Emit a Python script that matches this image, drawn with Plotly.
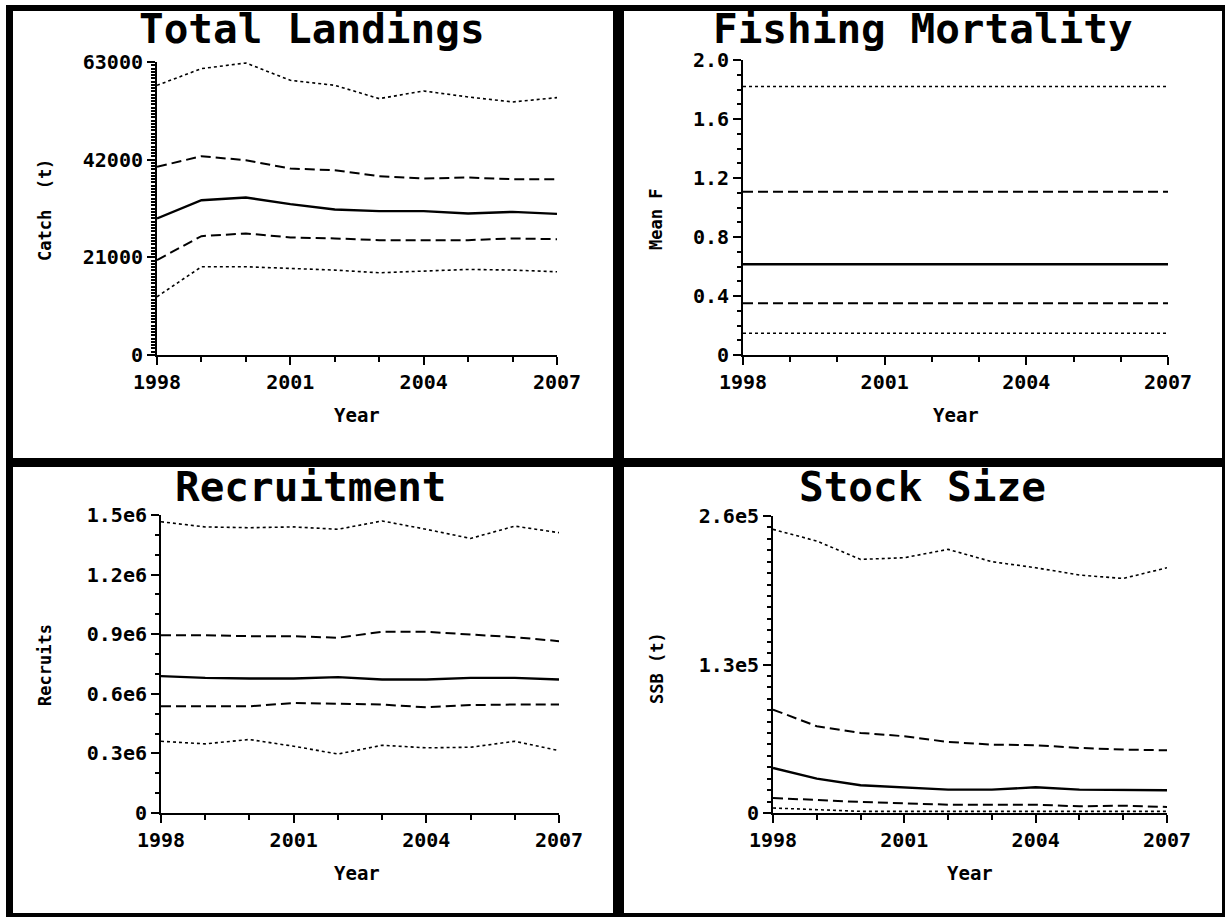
import plotly.graph_objects as go

years = [1998, 1999, 2000, 2001, 2002, 2003, 2004, 2005, 2006, 2007]

# Total Landings (t)
land_p95 = [57990, 61570, 62790, 59060, 57990, 55120, 56770, 55480, 54410, 55340]
land_p75 = [40450, 42740, 41880, 40090, 39730, 38440, 37940, 38160, 37800, 37800]
land_p50 = [29350, 33290, 33860, 32430, 31290, 30930, 30930, 30430, 30780, 30350]
land_p25 = [20400, 25560, 26130, 25270, 25060, 24700, 24700, 24700, 25060, 24910]
land_p05 = [12530, 18970, 18970, 18610, 18260, 17680, 18040, 18400, 18260, 17900]

# Fishing mortality (mean F)
f_p95 = [1.82] * 10
f_p75 = [1.107] * 10
f_p50 = [0.615] * 10
f_p25 = [0.350] * 10
f_p05 = [0.147] * 10

# Recruitment
rec_p95 = [1.466e6, 1.440e6, 1.436e6, 1.440e6, 1.428e6, 1.470e6, 1.428e6, 1.382e6, 1.444e6, 1.411e6]
rec_p75 = [0.895e6, 0.895e6, 0.890e6, 0.890e6, 0.882e6, 0.912e6, 0.912e6, 0.899e6, 0.885e6, 0.865e6]
rec_p50 = [0.689e6, 0.680e6, 0.677e6, 0.677e6, 0.684e6, 0.672e6, 0.672e6, 0.680e6, 0.680e6, 0.672e6]
rec_p25 = [0.537e6, 0.537e6, 0.537e6, 0.554e6, 0.549e6, 0.546e6, 0.532e6, 0.543e6, 0.546e6, 0.546e6]
rec_p05 = [0.361e6, 0.348e6, 0.370e6, 0.336e6, 0.297e6, 0.341e6, 0.328e6, 0.331e6, 0.361e6, 0.314e6]

# Stock size (SSB, t)
ssb_p95 = [248300, 238100, 222000, 223500, 230800, 220000, 214700, 208300, 205300, 214700]
ssb_p75 = [90550, 75950, 70100, 67180, 62200, 59880, 59300, 56960, 55500, 54900]
ssb_p50 = [39430, 30090, 24240, 22490, 20450, 20450, 22490, 20450, 19860, 19860]
ssb_p25 = [13140, 11100, 9640, 8470, 7300, 7300, 7300, 5840, 6430, 5260]
ssb_p05 = [4380, 2920, 1460, 1460, 1460, 1460, 1460, 1460, 1460, 1460]

titles = ["Total Landings", "Fishing Mortality", "Recruitment", "Stock Size"]
ytitles = ["Catch  (t)", "Mean F", "Recruits", "SSB (t)"]
ytickvals = [[0, 21000, 42000, 63000],
             [0, 0.4, 0.8, 1.2, 1.6, 2.0],
             [0, 0.3e6, 0.6e6, 0.9e6, 1.2e6, 1.5e6],
             [0, 1.3e5, 2.6e5]]
yticktext = [["0", "21000", "42000", "63000"],
             ["0", "0.4", "0.8", "1.2", "1.6", "2.0"],
             ["0", "0.3e6", "0.6e6", "0.9e6", "1.2e6", "1.5e6"],
             ["0", "1.3e5", "2.6e5"]]
yranges = [[0, 63000], [0, 2.0], [0, 1.5e6], [0, 2.6e5]]
yminor = [700, 0.1, 0.1e6, 10000]
xtickvals = [1998, 2001, 2004, 2007]
xticktext = ["1998", "2001", "2004", "2007"]

series = [
    [land_p95, land_p75, land_p50, land_p25, land_p05],
    [f_p95, f_p75, f_p50, f_p25, f_p05],
    [rec_p95, rec_p75, rec_p50, rec_p25, rec_p05],
    [ssb_p95, ssb_p75, ssb_p50, ssb_p25, ssb_p05],
]
styles = [("3px,3px", 1.6), ("10px,5px", 2), ("solid", 2.4), ("10px,5px", 2), ("3px,3px", 1.6)]

W, H = 1225, 917
# plot-area pixel boxes (x0, x1, ytop, ybottom)
boxes = [(157, 557, 62, 355), (743, 1168, 60, 355), (161, 559, 515, 813), (773, 1167, 516, 813)]
title_pos = [(312, 29), (923, 29), (311, 487), (922, 487)]
ytitle_pos = [(45, 210), (656, 220), (45, 665), (657, 668)]
xtitle_pos = [(357, 415), (956, 415), (357, 873), (970, 873)]

FONT = "DejaVu Sans Mono"
fig = go.Figure()
layout = dict(width=W, height=H, margin=dict(l=0, r=0, t=0, b=0, pad=0, autoexpand=False),
              paper_bgcolor="white", plot_bgcolor="white", showlegend=False)
annotations = []
for i in range(4):
    x0, x1, yt, yb = boxes[i]
    xa = "xaxis" if i == 0 else f"xaxis{i+1}"
    ya = "yaxis" if i == 0 else f"yaxis{i+1}"
    xr = "x" if i == 0 else f"x{i+1}"
    yr = "y" if i == 0 else f"y{i+1}"
    for s, (dash, w) in zip(series[i], styles):
        fig.add_trace(go.Scatter(x=years, y=s, mode="lines", xaxis=xr, yaxis=yr,
                                 line=dict(color="black", width=w, dash=dash),
                                 hoverinfo="skip"))
    layout[xa] = dict(domain=[x0 / W, x1 / W], anchor=yr, range=[1998, 2007],
                      tickvals=xtickvals, ticktext=xticktext, ticks="outside", ticklen=8,
                      tickwidth=2, tickcolor="black", showgrid=False, zeroline=False,
                      showline=True, linecolor="black", linewidth=2, automargin=False,
                      tickfont=dict(family=FONT, size=20, color="black", weight="bold"),
                      minor=dict(tickvals=years, ticks="outside", ticklen=5, tickwidth=2,
                                 tickcolor="black", showgrid=False))
    layout[ya] = dict(domain=[1 - yb / H, 1 - yt / H], anchor=xr, range=yranges[i],
                      tickvals=ytickvals[i], ticktext=yticktext[i], ticks="outside", ticklen=8,
                      tickwidth=2, tickcolor="black", showgrid=False, zeroline=False,
                      showline=True, linecolor="black", linewidth=2, automargin=False,
                      tickfont=dict(family=FONT, size=20, color="black", weight="bold"),
                      minor=dict(dtick=yminor[i], ticks="outside", ticklen=4, tickwidth=1.5,
                                 tickcolor="black", showgrid=False))
    tx, ty = title_pos[i]
    annotations.append(dict(text=titles[i], x=tx / W, y=1 - ty / H, xref="paper", yref="paper",
                            showarrow=False, xanchor="center", yanchor="middle",
                            font=dict(family=FONT, size=41, color="black", weight="bold")))
    ax_, ay_ = ytitle_pos[i]
    annotations.append(dict(text=ytitles[i], x=ax_ / W, y=1 - ay_ / H, xref="paper", yref="paper",
                            showarrow=False, xanchor="center", yanchor="middle", textangle=-90,
                            font=dict(family=FONT, size=17, color="black", weight="bold")))
    bx, by = xtitle_pos[i]
    annotations.append(dict(text="Year", x=bx / W, y=1 - by / H, xref="paper", yref="paper",
                            showarrow=False, xanchor="center", yanchor="middle",
                            font=dict(family=FONT, size=19, color="black", weight="bold")))

# panel frame lines (pixel positions converted to paper)
def px_rect(x0, y0, x1, y1):
    return dict(type="rect", xref="paper", yref="paper", x0=x0 / W, x1=x1 / W,
                y0=1 - y1 / H, y1=1 - y0 / H, fillcolor="black", line=dict(width=0), layer="above")

shapes = [
    px_rect(6, 5, 1225, 11),      # top
    px_rect(6, 5, 13, 917),       # left
    px_rect(613, 5, 624, 917),    # middle vertical
    px_rect(6, 458, 1225, 467),   # middle horizontal
    px_rect(6, 913, 1225, 917),   # bottom
    px_rect(1222, 5, 1225, 917),  # right
]
layout["annotations"] = annotations
layout["shapes"] = shapes
fig.update_layout(**layout)
fig.write_html("out.html", config={"displayModeBar": False},
               post_script="document.body.style.margin='0';document.body.style.overflow='hidden';")
